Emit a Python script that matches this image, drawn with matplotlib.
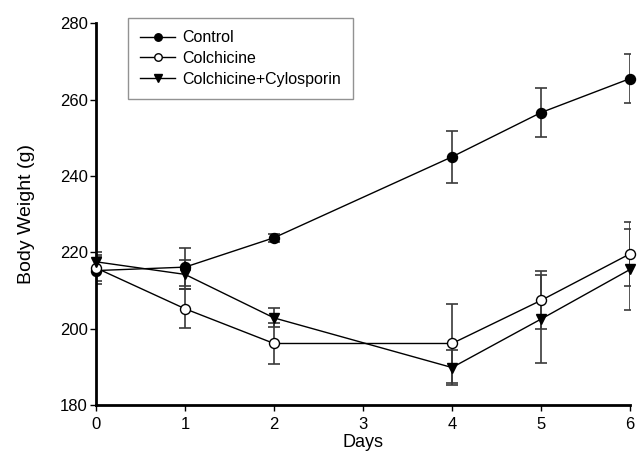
import matplotlib
matplotlib.use("Agg")
import matplotlib.pyplot as plt

plt.rcParams["font.family"] = ["Liberation Sans", "DejaVu Sans"]

days = [0, 1, 2, 4, 5, 6]
control = [215.2, 216.1, 223.8, 245.0, 256.6, 265.5]
control_err = [3.6, 5.0, 1.0, 6.8, 6.5, 6.5]
colch = [215.9, 205.2, 196.1, 196.1, 207.4, 219.6]
colch_err = [3.3, 5.1, 5.3, 10.4, 7.6, 8.4]
colch_cyc = [217.5, 214.2, 202.8, 189.8, 202.5, 215.5]
colch_cyc_err = [2.6, 3.9, 2.5, 4.5, 11.5, 10.5]

fig = plt.figure(figsize=(6.42, 4.55), dpi=100)
ax = fig.add_axes([0.1495, 0.110, 0.832, 0.839])

series = [
    ("Control", control, control_err, "o", "black", 7.2),
    ("Colchicine", colch, colch_err, "o", "white", 7.2),
    ("Colchicine+Cylosporin", colch_cyc, colch_cyc_err, "v", "black", 7.2),
]
for name, y, e, m, fc, ms in series:
    ax.errorbar(days, y, yerr=e, fmt="none", ecolor="#3a3a3a", elinewidth=1.2,
                capsize=4.3, capthick=1.2, zorder=2)
    ax.plot(days, y, marker=m, color="black", mfc=fc, mec="black", mew=1.0,
            ms=ms, lw=1.0, label=name, zorder=3, clip_on=False)

ax.set_xlim(0, 6)
ax.set_ylim(180, 280)
ax.set_xticks(range(7))
ax.set_yticks(range(180, 281, 20))
for s in ["top", "right"]:
    ax.spines[s].set_visible(False)
for s in ["left", "bottom"]:
    ax.spines[s].set_linewidth(2.0)
ax.tick_params(direction="out", length=4, width=1.0, labelsize=12, pad=2)
ax.tick_params(axis="x", pad=5)
ax.set_xlabel("Days", fontsize=13, labelpad=1)
ax.set_ylabel("Body Weight (g)", fontsize=14, labelpad=18)

leg = ax.legend(loc="upper left", bbox_to_anchor=(0.06, 1.013), fontsize=11.5,
                frameon=True, fancybox=False, handlelength=2.2, handletextpad=0.45,
                borderpad=0.75, labelspacing=0.36, markerscale=0.75,
                borderaxespad=0)
leg.get_frame().set_edgecolor("#777777")
leg.get_frame().set_linewidth(1.0)

fig.savefig("out.png", dpi=100)
